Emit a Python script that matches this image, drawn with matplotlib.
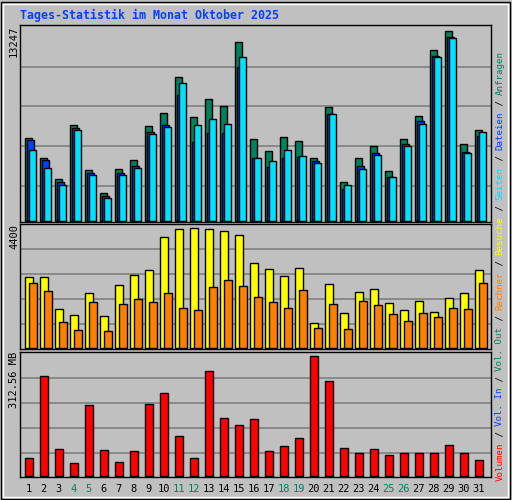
import matplotlib
matplotlib.use("Agg")
import matplotlib.pyplot as plt
import numpy as np

days = list(range(1, 32))
weekend = [4, 5, 11, 12, 18, 19, 25, 26]
S = 13247 / 190.7
hits_px = [83, 62.7, 41.7, 96.7, 50.7, 27.7, 51.7, 60.7, 95.7, 108.7, 144.7, 104.7, 122.7, 115.7, 179.7,
           81.7, 69.7, 83.7, 79.7, 62.7, 114.7, 38.7, 62.7, 74.7, 49.7, 81.7, 105.7, 171.7, 190.7, 76.7, 91.7]
files_px = [80.7, 60.7, 39, 93, 47.7, 24.7, 47.7, 55, 88.7, 96.7, 126.7, 79, 88, 88, 155,
            62.7, 54, 62.7, 64, 59.7, 107.7, 31.7, 54.7, 67.7, 43.7, 76.7, 100.7, 165.7, 184.7, 68.7, 84.7]
pages_px = [70.7, 52.7, 36, 91, 46, 23, 46, 53, 87, 94, 139, 96.7, 102, 97.7, 164.7,
            62.7, 59.7, 70.7, 64.7, 57.7, 107.7, 35.7, 51.7, 65.7, 43.7, 74.7, 97.7, 164.7, 183.7, 67.7, 88.7]
hits = [round(v * S) for v in hits_px]
files = [round(v * S) for v in files_px]
pages = [round(v * S) for v in pages_px]

vis_z = [187, 187, 283, 301, 235, 304, 211, 181, 166, 67, 43, 40, 43, 49, 61, 145, 163, 184, 160, 325,
         208, 295, 232, 223, 265, 286, 259, 292, 250, 235, 166]
site_z = [205, 229, 322, 346, 262, 349, 268, 253, 262, 235, 280, 286, 217, 196, 214, 247, 262, 280, 226, 340,
          268, 343, 259, 271, 298, 319, 295, 307, 280, 283, 205]
visits = [round((133 - z / 3) * 4400 / 119.7) for z in vis_z]
sites = [round((133 - z / 3) * 4400 / 119.7) for z in site_z]

kb_z = [352, 108, 325, 367, 193, 328, 364, 331, 190, 157, 286, 352, 91, 232, 253, 235, 331, 316, 292, 48,
        121, 322, 337, 325, 343, 337, 337, 337, 313, 337, 358]
volume = [round((135.7 - z / 3) * 312.56 / 119.7, 2) for z in kb_z]

BG = "#C0C0C0"
C_HITS, C_FILES, C_PAGES = "#00805C", "#0040FF", "#00E0FF"
C_VIS, C_SITES, C_KB = "#FFFF00", "#FF8000", "#FF0000"
C_WE = "#00805C"
MONO = "DejaVu Sans Mono"

fig = plt.figure(figsize=(5.12, 5.0), dpi=100, facecolor=BG)
W, H = 512, 500

def add_ax(x0, y0, x1, y1):
    ax = fig.add_axes([x0 / W, 1 - y1 / H, (x1 - x0) / W, (y1 - y0) / H])
    ax.set_facecolor(BG)
    for s in ax.spines.values():
        s.set_color("black"); s.set_linewidth(1)
    ax.set_xticks([]); ax.set_yticks([])
    ax.set_xlim(1 - 5 / 15, 1 + (491 - 25) / 15)
    return ax

fig.add_artist(plt.Rectangle((1 / W, 1 / H), 1 - 3 / W, 1 - 3 / H, transform=fig.transFigure,
                             fill=False, edgecolor="black", lw=1))
fig.add_artist(plt.Rectangle((3 / W, 3 / H), 1 - 7 / W, 1 - 7 / H, transform=fig.transFigure,
                             fill=False, edgecolor="white", lw=1))

x = np.array(days, dtype=float)
ek = dict(edgecolor="black", linewidth=1, align="edge")

ax1 = add_ax(20, 25, 491, 222)
top1 = max(hits) * 197 / 190.7
ax1.set_ylim(-1.5 * S, top1)
for f in [35, 75, 115, 155]:
    ax1.axhline(f * S, color="#808080", lw=1.2, zorder=0)
ax1.bar(x, hits, width=0.47, color=C_HITS, **ek)
ax1.bar(x + 0.133, files, width=0.47, color=C_FILES, **ek)
ax1.bar(x + 0.267, pages, width=0.47, color=C_PAGES, **ek)

ax2 = add_ax(20, 224, 491, 349)
s2 = max(visits) / 119.7
ax2.set_ylim(-1 * s2, max(visits) * 124 / 119.7)
for f in [24, 49, 74, 99]:
    ax2.axhline(f * s2, color="#808080", lw=1.2, zorder=0)
ax2.bar(x, visits, width=0.53, color=C_VIS, **ek)
ax2.bar(x + 0.27, sites, width=0.5, color=C_SITES, **ek)

ax3 = add_ax(20, 352, 491, 477)
s3 = max(volume) / 119.7
ax3.set_ylim(-1 * s3, max(volume) * 124 / 119.7)
for f in [23.4, 48.4, 73.4, 98.4]:
    ax3.axhline(f * s3, color="#808080", lw=1.2, zorder=0)
ax3.bar(x, volume, width=0.51, color=C_KB, **ek)
for d in days:
    ax3.text(d + 0.25, -0.055, str(d), transform=ax3.get_xaxis_transform(), ha="center", va="top",
             fontsize=7.5, family=MONO, color=C_WE if d in weekend else "black")

fig.text(20 / W, 1 - 15 / H, "Tages-Statistik im Monat Oktober 2025", fontsize=8.4, family=MONO,
         weight="bold", color="#0040FF", va="center", ha="left")
fig.text(14 / W, 1 - 26 / H, f"{max(hits)}", rotation=90, fontsize=7.5, family=MONO, ha="center", va="top")
fig.text(14 / W, 1 - 224 / H, "4400", rotation=90, fontsize=7.5, family=MONO, ha="center", va="top")
fig.text(14 / W, 1 - 352 / H, f"{max(volume):.2f} MB", rotation=90, fontsize=7.5, family=MONO, ha="center", va="top")

segs = [("Volumen", C_KB), (" / ", "black"), ("Vol. In", C_FILES), (" / ", "black"), ("Vol. Out", C_HITS),
        (" / ", "black"), ("Rechner", C_SITES), (" / ", "black"), ("Besuche", C_VIS), (" / ", "black"),
        ("Seiten", C_PAGES), (" / ", "black"), ("Dateien", C_FILES), (" / ", "black"), ("Anfragen", C_HITS)]
fs = 6.6
chw = 0.602 * fs * 100 / 72
ypos = 481
for t, c in segs:
    fig.text(500 / W, 1 - ypos / H, t, rotation=90, fontsize=fs, family=MONO, color=c,
             ha="center", va="bottom")
    ypos -= len(t) * chw

fig.savefig("out.png", dpi=100, facecolor=BG)
